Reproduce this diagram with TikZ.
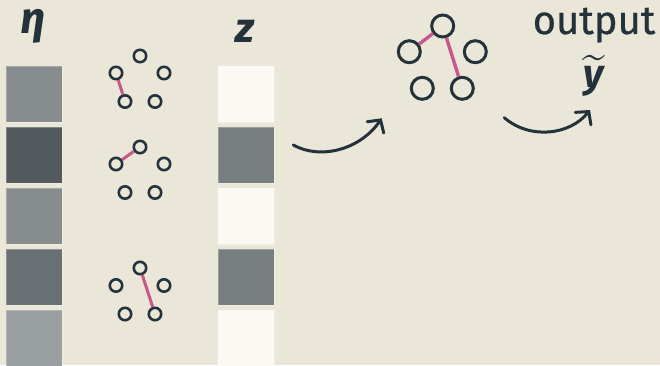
\documentclass[tikz,border=0pt]{standalone}
\usepackage{exscale}
\usepackage{graphicx}
\usepackage{fontspec}
\setmainfont{Fira Sans}
\usetikzlibrary{arrows.meta}
\definecolor{bg}{RGB}{235,231,216}
\definecolor{ink}{RGB}{36,50,60}
\definecolor{pinkedge}{RGB}{198,88,140}
\definecolor{etaA}{RGB}{135,140,142}
\definecolor{etaB}{RGB}{82,90,94}
\definecolor{etaC}{RGB}{104,112,116}
\definecolor{etaD}{RGB}{153,158,160}
\definecolor{zW}{RGB}{250,249,244}
\definecolor{zG}{RGB}{119,126,128}
\tikzset{
  cell/.style={draw=white, draw opacity=0.25, line width=0.8pt, minimum width=56pt, minimum height=56pt, inner sep=0pt, outer sep=0pt},
  vert/.style={circle, draw=ink, line width=2.6pt, minimum size=12.4pt, inner sep=0pt, fill=bg},
  bigvert/.style={circle, draw=ink, line width=3pt, minimum size=22pt, inner sep=0pt, fill=bg},
  gedge/.style={draw=pinkedge, line width=3pt},
  bigedge/.style={draw=pinkedge, line width=3.4pt},
  flow/.style={draw=ink, line width=3pt, line cap=round, -{Straight Barb[length=9pt,width=20pt,line cap=round]}},
  lbl/.style={text=ink, inner sep=0pt, anchor=base},
}
\begin{document}
\begin{tikzpicture}[x=1pt,y=1pt]
\useasboundingbox (0,0) rectangle (660,365);
\fill[bg] (0,0) rectangle (660,365);
% eta column
\node[cell, fill=etaA] (e1) at (34,365-94) {};
\node[cell, fill=etaB] (e2) at (34,365-155) {};
\node[cell, fill=etaA] (e3) at (34,365-216) {};
\node[cell, fill=etaC] (e4) at (34,365-277) {};
\node[cell, fill=etaD] (e5) at (34,365-338) {};
% z column
\node[cell, fill=zW] (z1) at (246,365-94) {};
\node[cell, fill=zG] (z2) at (246,365-155) {};
\node[cell, fill=zW] (z3) at (246,365-216) {};
\node[cell, fill=zG] (z4) at (246,365-277) {};
\node[cell, fill=zW] (z5) at (246,365-338) {};
% labels
\node[lbl, font=\fontsize{44}{44}\selectfont\bfseries\itshape] (eta) at (33,365-34) {η};
\node[lbl, font=\fontsize{42}{42}\selectfont\bfseries\itshape] (zl) at (245,365-43) {z};
\node[lbl, font=\fontsize{40}{40}\selectfont\addfontfeature{FakeBold=0.6}] (out) at (594,365-34) {output};
\node[lbl, font=\fontsize{40}{40}\selectfont] (yt) at (594,365-87)
  {\makebox[0pt]{\raisebox{-2.5pt}{\scalebox{1.65}[1.9]{$\widetilde{\hbox to 14pt{}}$}}}\makebox[0pt]{\bfseries\itshape y}};
% small graphs
\begin{scope}[shift={(0,365)}]
\node[vert] (a1) at (140,-56) {};
\node[vert] (a2) at (116,-73) {};
\node[vert] (a3) at (164,-73) {};
\node[vert] (a4) at (125,-101.5) {};
\node[vert] (a5) at (155,-101.5) {};
\node[vert] (b1) at (140,-147) {};
\node[vert] (b2) at (116,-164) {};
\node[vert] (b3) at (164,-164) {};
\node[vert] (b4) at (125,-192.5) {};
\node[vert] (b5) at (155,-192.5) {};
\node[vert] (c1) at (140,-268) {};
\node[vert] (c2) at (116,-285.5) {};
\node[vert] (c3) at (164,-285.5) {};
\node[vert] (c4) at (125,-314) {};
\node[vert] (c5) at (155,-314) {};
% big graph
\node[bigvert] (g1) at (442.7,-26) {};
\node[bigvert] (g2) at (409.3,-51.7) {};
\node[bigvert] (g3) at (475.3,-51.7) {};
\node[bigvert] (g4) at (422.3,-88.3) {};
\node[bigvert] (g5) at (462.3,-88.3) {};
\coordinate (s1) at (293.3,-145);
\coordinate (t1) at (381.7,-118.3);
\coordinate (s2) at (504.3,-117.7);
\coordinate (t2) at (590,-110);
\end{scope}
\draw[gedge] (a2) -- (a4);
\draw[gedge] (b2) -- (b1);
\draw[gedge] (c1) -- (c5);
\draw[bigedge] (g2) -- (g1);
\draw[bigedge] (g1) -- (g5);
\draw[flow] (s1) .. controls (320,365-160) and (360,365-150) .. (t1);
\draw[flow] (s2) .. controls (530,365-140) and (570,365-135) .. (t2);
\end{tikzpicture}
\end{document}
